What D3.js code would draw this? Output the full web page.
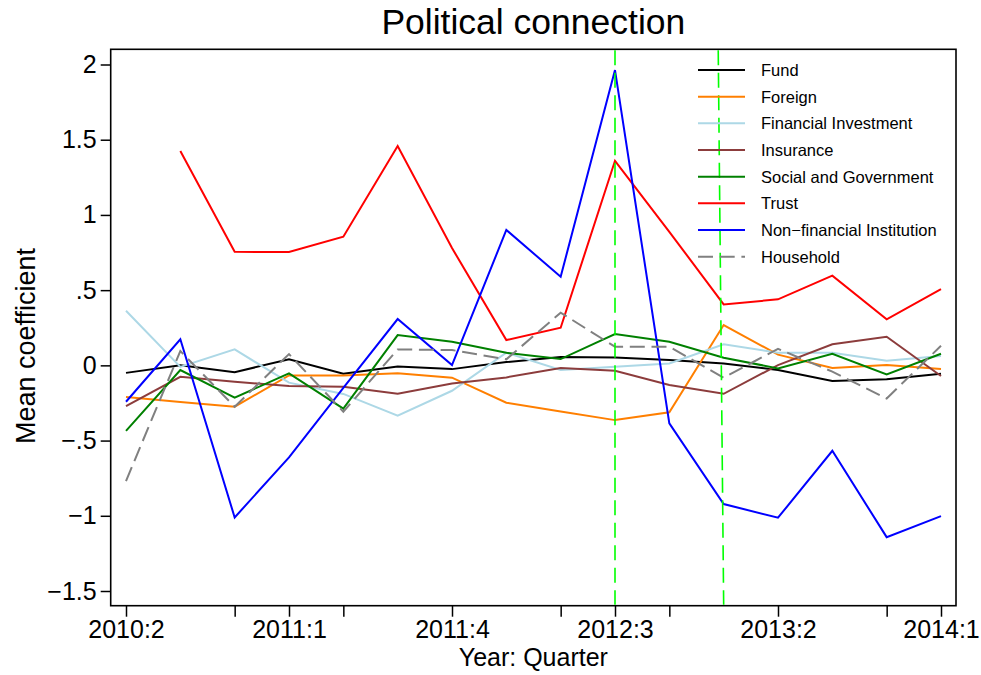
<!DOCTYPE html>
<html>
<head>
<meta charset="utf-8">
<script src="https://cdn.jsdelivr.net/npm/d3@7"></script>
<style>
  html, body { margin: 0; padding: 0; background: #fff; }
  svg { display: block; font-family: "Liberation Sans", Arial, Helvetica, sans-serif; }
</style>
</head>
<body>
<svg id="chart" width="981" height="675"></svg>
<script>
// Quarters on the x axis (index 0..15)
const quarters = ["2010:2","2010:3","2010:4","2011:1","2011:2","2011:3","2011:4","2012:1",
                  "2012:2","2012:3","2012:4","2013:1","2013:2","2013:3","2013:4","2014:1"];
const xTickQuarters = ["2010:2","2010:4","2011:1","2011:2","2011:4","2012:2","2012:3","2012:4","2013:2","2013:4","2014:1"];
const xLabelQuarters = ["2010:2","2011:1","2011:4","2012:3","2013:2","2014:1"];
const yTicks = [2, 1.5, 1, 0.5, 0, -0.5, -1, -1.5];
const yTickLabels = ["2", "1.5", "1", ".5", "0", "\u2212.5", "\u22121", "\u22121.5"];

// Mean coefficient by investor type
const fund      = [-0.050, 0.000, -0.045, 0.040, -0.055, -0.007, -0.025, 0.022, 0.055, 0.053, 0.035, 0.013, -0.031, -0.104, -0.093, -0.056];
const foreign   = [-0.211, -0.244, -0.275, -0.067, -0.067, -0.052, -0.082, -0.248, -0.306, -0.364, -0.312, 0.268, 0.071, -0.018, 0.002, -0.025];
const finInv    = [0.363, -0.010, 0.106, -0.115, -0.190, -0.335, -0.169, 0.084, -0.031, -0.009, 0.013, 0.140, 0.084, 0.084, 0.031, 0.062];
const insurance = [-0.271, -0.076, -0.109, -0.138, -0.142, -0.189, -0.120, -0.080, -0.018, -0.036, -0.131, -0.189, 0.002, 0.140, 0.190, -0.071];
const socialGov = [-0.435, -0.031, -0.215, -0.053, -0.288, 0.201, 0.157, 0.084, 0.042, 0.208, 0.157, 0.051, -0.020, 0.077, -0.060, 0.077];
const trust     = [null, 1.425, 0.755, 0.753, 0.855, 1.458, 0.780, 0.168, 0.250, 1.360, 0.888, 0.405, 0.439, 0.596, 0.306, 0.507];
const nonFin    = [-0.242, 0.173, -1.011, -0.612, -0.150, 0.308, 0.002, 0.900, 0.589, 1.963, -0.386, -0.922, -1.013, -0.568, -1.142, -1.002];
const household = [-0.769, 0.095, -0.275, 0.075, -0.308, 0.106, 0.102, 0.040, 0.350, 0.124, 0.124, -0.082, 0.110, -0.042, -0.220, 0.130];

const seriesNames  = ["Fund", "Foreign", "Financial Investment", "Insurance", "Social and Government",
                      "Trust", "Non\u2212financial Institution", "Household"];
const seriesValues = [fund, foreign, finInv, insurance, socialGov, trust, nonFin, household];
const seriesColors = ["#000000", "#ff7f00", "#add8e6", "#8c3c3c", "#008000", "#ff0000", "#0000ff", "#808080"];
const seriesDash   = [null, null, null, null, null, null, null, "15,6.7"];

// Event markers (quarter index at top and bottom of the plot region)
const eventLines = [{ top: 9, bottom: 9 }, { top: 10.9, bottom: 11 }];

const svg = d3.select("#chart");
const box = { left: 110.7, right: 956, top: 49.3, bottom: 605.7 };

const x = d3.scaleLinear().domain([0, quarters.length - 1]).range([126, 941]);
const y = d3.scaleLinear().domain([-1.5, 2]).range([591, 64.5]);
const qi = q => quarters.indexOf(q);

// Title
svg.append("text")
  .attr("x", (box.left + box.right) / 2).attr("y", 34)
  .attr("text-anchor", "middle")
  .attr("font-size", 35.5)
  .text("Political connection");

// Plot frame
svg.append("rect")
  .attr("x", box.left).attr("y", box.top)
  .attr("width", box.right - box.left).attr("height", box.bottom - box.top)
  .attr("fill", "none").attr("stroke", "#000").attr("stroke-width", 1.6);

// Y axis
const yAxis = d3.axisLeft(y)
  .tickValues(yTicks)
  .tickSize(10)
  .tickPadding(4)
  .tickFormat((d, i) => yTickLabels[i]);
const yg = svg.append("g").attr("transform", `translate(${box.left},0)`).call(yAxis);
yg.select(".domain").remove();
yg.selectAll(".tick line").attr("stroke", "#000").attr("stroke-width", 1.5);
yg.selectAll(".tick text").attr("font-size", 25).attr("fill", "#000")
  .attr("font-family", "Liberation Sans, Arial, sans-serif");

// X axis
const xAxis = d3.axisBottom(x)
  .tickValues(xTickQuarters.map(qi))
  .tickSize(11)
  .tickPadding(4)
  .tickFormat(d => xLabelQuarters.includes(quarters[d]) ? quarters[d] : "");
const xg = svg.append("g").attr("transform", `translate(0,${box.bottom})`).call(xAxis);
xg.select(".domain").remove();
xg.selectAll(".tick line").attr("stroke", "#000").attr("stroke-width", 1.5);
xg.selectAll(".tick text").attr("font-size", 25).attr("fill", "#000")
  .attr("font-family", "Liberation Sans, Arial, sans-serif");

// Axis titles
svg.append("text")
  .attr("x", (box.left + box.right) / 2).attr("y", 666)
  .attr("text-anchor", "middle").attr("font-size", 25)
  .text("Year: Quarter");
svg.append("text")
  .attr("transform", `translate(35,346) rotate(-90)`)
  .attr("text-anchor", "middle").attr("font-size", 27)
  .text("Mean coefficient");

// Series lines
const line = d3.line()
  .defined(d => d.v !== null)
  .x(d => x(d.i))
  .y(d => y(d.v));

seriesValues.forEach((vals, s) => {
  svg.append("path")
    .datum(vals.map((v, i) => ({ i, v })))
    .attr("fill", "none")
    .attr("stroke", seriesColors[s])
    .attr("stroke-width", 2)
    .attr("stroke-linejoin", "miter")
    .attr("stroke-dasharray", seriesDash[s])
    .attr("d", line);
});

// Event markers
svg.selectAll(".event").data(eventLines).enter().append("line")
  .attr("class", "event")
  .attr("x1", d => x(d.top)).attr("y1", box.top + 1)
  .attr("x2", d => x(d.bottom)).attr("y2", box.bottom - 1)
  .attr("stroke", "#00ff00").attr("stroke-width", 1.6)
  .attr("stroke-dasharray", "15,7.5");

// Legend
const legend = svg.append("g").attr("transform", "translate(698,70)");
seriesNames.forEach((name, s) => {
  const g = legend.append("g").attr("transform", `translate(0,${s * 26.67})`);
  g.append("line")
    .attr("x1", 0).attr("x2", 47).attr("y1", 0).attr("y2", 0)
    .attr("stroke", seriesColors[s]).attr("stroke-width", 2)
    .attr("stroke-dasharray", seriesDash[s]);
  g.append("text")
    .attr("x", 63).attr("y", 6)
    .attr("font-size", 16.5)
    .text(name);
});
</script>
</body>
</html>
